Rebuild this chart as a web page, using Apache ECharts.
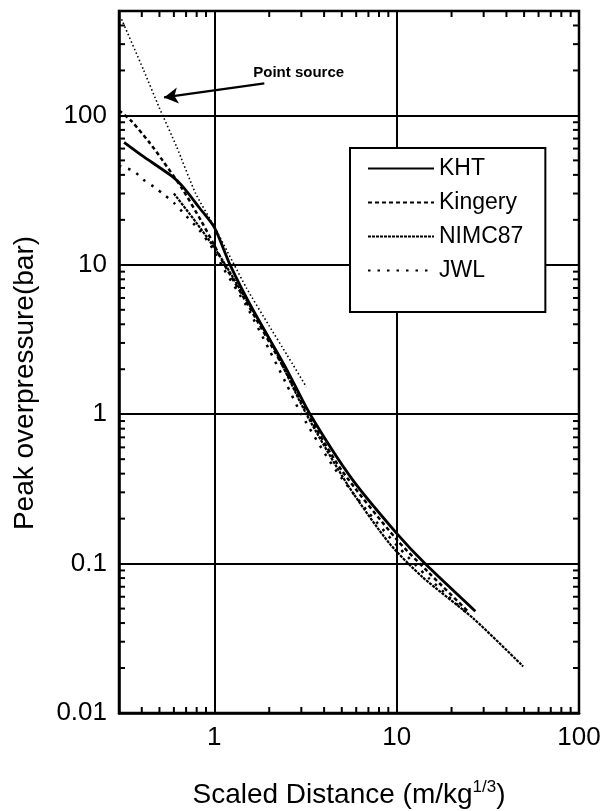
<!DOCTYPE html>
<html><head><meta charset="utf-8">
<script src="https://cdn.jsdelivr.net/npm/echarts@6/dist/echarts.min.js"></script>
<style>html,body{margin:0;padding:0;background:#fff}#c{width:605px;height:811px}</style>
</head><body><div id="c"></div>
<script>
// ---- data ----
const khtX = [0.32, 0.40, 0.58, 0.67, 0.83, 1.0, 1.22, 1.6, 2.48, 3.35, 5.75, 10.2, 14.3, 27];
const khtY = [66, 54, 39.5, 33.5, 24, 17.8, 10, 5.2, 2.02, 1.0, 0.362, 0.155, 0.1, 0.048];

const kingeryX = [0.3, 0.35, 0.44, 0.52, 0.67, 0.85, 1.0, 1.12, 1.6, 2.4, 3.26, 5.0, 10, 15, 25];
const kingeryY = [108, 92, 66, 50, 32, 19.5, 13.5, 10.3, 4.9, 2.05, 1.0, 0.42, 0.145, 0.087, 0.047];

const nimcX = [0.6, 0.8, 1.0, 1.15, 1.5, 2.0, 3.2, 5.4, 9.15, 13.9, 26.3, 49.4];
const nimcY = [30, 19, 13, 10, 5.8, 3.2, 1.0, 0.335, 0.136, 0.081, 0.043, 0.0205];

const jwlX = [0.3, 0.36, 0.41, 0.47, 0.53, 0.6, 0.67, 0.83, 0.98, 1.12, 1.5, 2.0, 2.48, 3.0, 4.47, 6.8, 10, 15, 25];
const jwlY = [46, 42.5, 37, 33, 29.5, 26, 22.5, 17, 12.8, 9.5, 5.3, 2.7, 1.6, 1.0, 0.45, 0.23, 0.133, 0.08, 0.045];

const pointX = [0.31, 0.41, 0.5, 0.62, 0.79, 1.0, 1.5, 2.0, 2.5, 3.2];
const pointY = [440, 200, 112, 62, 30, 18, 7.0, 3.9, 2.5, 1.52];

const legendNames = ['KHT', 'Kingery', 'NIMC87', 'JWL'];
const xTickValues = [1, 10, 100];
const xTickLabels = ['1', '10', '100'];
const yTickValues = [0.01, 0.1, 1, 10, 100];
const yTickLabels = ['0.01', '0.1', '1', '10', '100'];
const xMinorTicks = [0.4, 0.5, 0.6, 0.7, 0.8, 0.9, 2, 3, 4, 5, 6, 7, 8, 9, 20, 30, 40, 50, 60, 70, 80, 90];
const yMinorTicks = [0.02, 0.03, 0.04, 0.05, 0.06, 0.07, 0.08, 0.09, 0.2, 0.3, 0.4, 0.5, 0.6, 0.7, 0.8, 0.9,
  2, 3, 4, 5, 6, 7, 8, 9, 20, 30, 40, 50, 60, 70, 80, 90, 200, 300, 400];

// annotation (data coordinates)
const annotationText = 'Point source';
const arrowFrom = [1.88, 164];
const arrowTo = [0.53, 132];
const textAt = [2.9, 194];

const FONT = '"Liberation Sans", Arial, Helvetica, sans-serif';
const zip = (xs, ys) => xs.map((x, i) => [x, ys[i]]);

function labelFor(values, labels) {
  return function (v) {
    for (let i = 0; i < values.length; i++) {
      if (Math.abs(Math.log10(v) - Math.log10(values[i])) < 1e-6) return labels[i];
    }
    return '';
  };
}

const tickData = xMinorTicks.map(v => [v, 1, 0]).concat(yMinorTicks.map(v => [1, v, 1]));

const chart = echarts.init(document.getElementById('c'), null, { renderer: 'canvas' });
const axisCommon = {
  type: 'log', logBase: 10,
  axisLine: { show: true, lineStyle: { color: '#000', width: 2.5 } },
  axisTick: { show: false },
  splitLine: { show: true, lineStyle: { color: '#000', width: 2 } },
  minorTick: { show: false }, minorSplitLine: { show: false }
};

chart.setOption({
  animation: false,
  backgroundColor: '#fff',
  grid: { left: 119, right: 26, top: 11, bottom: 98, outerBoundsMode: 'none', containLabel: false,
    show: true, borderColor: '#000', borderWidth: 2.5, backgroundColor: 'transparent' },
  xAxis: Object.assign({}, axisCommon, {
    min: 0.3, max: 100,
    axisLabel: { formatter: labelFor(xTickValues, xTickLabels), fontSize: 26, color: '#000', fontFamily: FONT, margin: 12, showMinLabel: true },
    name: 'Scaled Distance (m/kg{sup|1/3})',
    nameLocation: 'middle', nameGap: 66,
    nameTextStyle: { fontSize: 28, color: '#000', fontFamily: FONT, lineHeight: 32,
      rich: { sup: { fontSize: 17, color: '#000', fontFamily: FONT, verticalAlign: 'top', lineHeight: 32, padding: [0, 0, 8, 0] } } }
  }),
  yAxis: Object.assign({}, axisCommon, {
    min: 0.01, max: 500,
    axisLabel: { formatter: labelFor(yTickValues, yTickLabels), fontSize: 26, color: '#000', fontFamily: FONT, margin: 12 },
    name: 'Peak overpressure(bar)',
    nameLocation: 'middle', nameGap: 80,
    nameTextStyle: { fontSize: 28, color: '#000', fontFamily: FONT, padding: [0, 42, 0, 0] }
  }),
  legend: {
    data: legendNames,
    orient: 'vertical', left: 350, top: 148,
    padding: [9, 22, 30, 17], itemGap: 11, itemWidth: 66, itemHeight: 14,
    backgroundColor: '#fff', borderColor: '#000', borderWidth: 2,
    itemStyle: { opacity: 0 },
    textStyle: { fontSize: 23, color: '#000', fontFamily: FONT, lineHeight: 23 },
    z: 10
  },
  series: [
    { name: 'KHT', type: 'line', data: zip(khtX, khtY), symbol: 'none', smooth: 0.25,
      lineStyle: { color: '#000', width: 2.8, type: 'solid' }, itemStyle: { color: '#000' } },
    { name: 'Kingery', type: 'line', data: zip(kingeryX, kingeryY), symbol: 'none', smooth: 0.25,
      lineStyle: { color: '#000', width: 2.5, type: [4, 3] }, itemStyle: { color: '#000' } },
    { name: 'NIMC87', type: 'line', data: zip(nimcX, nimcY), symbol: 'none', smooth: 0.25,
      lineStyle: { color: '#000', width: 2.2, type: [3, 1] }, itemStyle: { color: '#000' } },
    { name: 'JWL', type: 'line', data: zip(jwlX, jwlY), symbol: 'none', smooth: 0.25,
      lineStyle: { color: '#000', width: 2.5, type: [2.5, 7] }, itemStyle: { color: '#000' } },
    { name: 'Point source', type: 'line', data: zip(pointX, pointY), symbol: 'none', smooth: 0.2,
      lineStyle: { color: '#000', width: 1.6, type: [1.5, 2.5] }, itemStyle: { color: '#000' },
      markLine: {
        silent: true, symbol: ['none', 'arrow'], symbolSize: [12, 14],
        lineStyle: { color: '#000', width: 2.2, type: 'solid' },
        label: { show: false },
        data: [[{ coord: arrowFrom }, { coord: arrowTo }]]
      },
      markPoint: {
        silent: true,
        data: [{ coord: textAt, symbol: 'circle', symbolSize: 0,
          label: { show: true, position: 'inside', formatter: annotationText, fontSize: 15, fontWeight: 'bold', color: '#000', fontFamily: FONT } }]
      }
    },
    { name: 'minorTicks', type: 'custom', silent: true, clip: false, z: 5,
      data: tickData,
      renderItem: function (params, api) {
        const cs = params.coordSys;
        const p = api.coord([api.value(0), api.value(1)]);
        const L = 6;
        const st = { stroke: '#000', lineWidth: 2 };
        if (api.value(2) === 0) {
          const yb = cs.y + cs.height, yt = cs.y;
          return { type: 'group', children: [
            { type: 'line', shape: { x1: p[0], y1: yb, x2: p[0], y2: yb - L }, style: st },
            { type: 'line', shape: { x1: p[0], y1: yt, x2: p[0], y2: yt + L }, style: st }
          ] };
        }
        const xl = cs.x, xr = cs.x + cs.width;
        return { type: 'group', children: [
          { type: 'line', shape: { x1: xl, y1: p[1], x2: xl + L, y2: p[1] }, style: st },
          { type: 'line', shape: { x1: xr, y1: p[1], x2: xr - L, y2: p[1] }, style: st }
        ] };
      }
    }
  ]
});
</script>
</body></html>
